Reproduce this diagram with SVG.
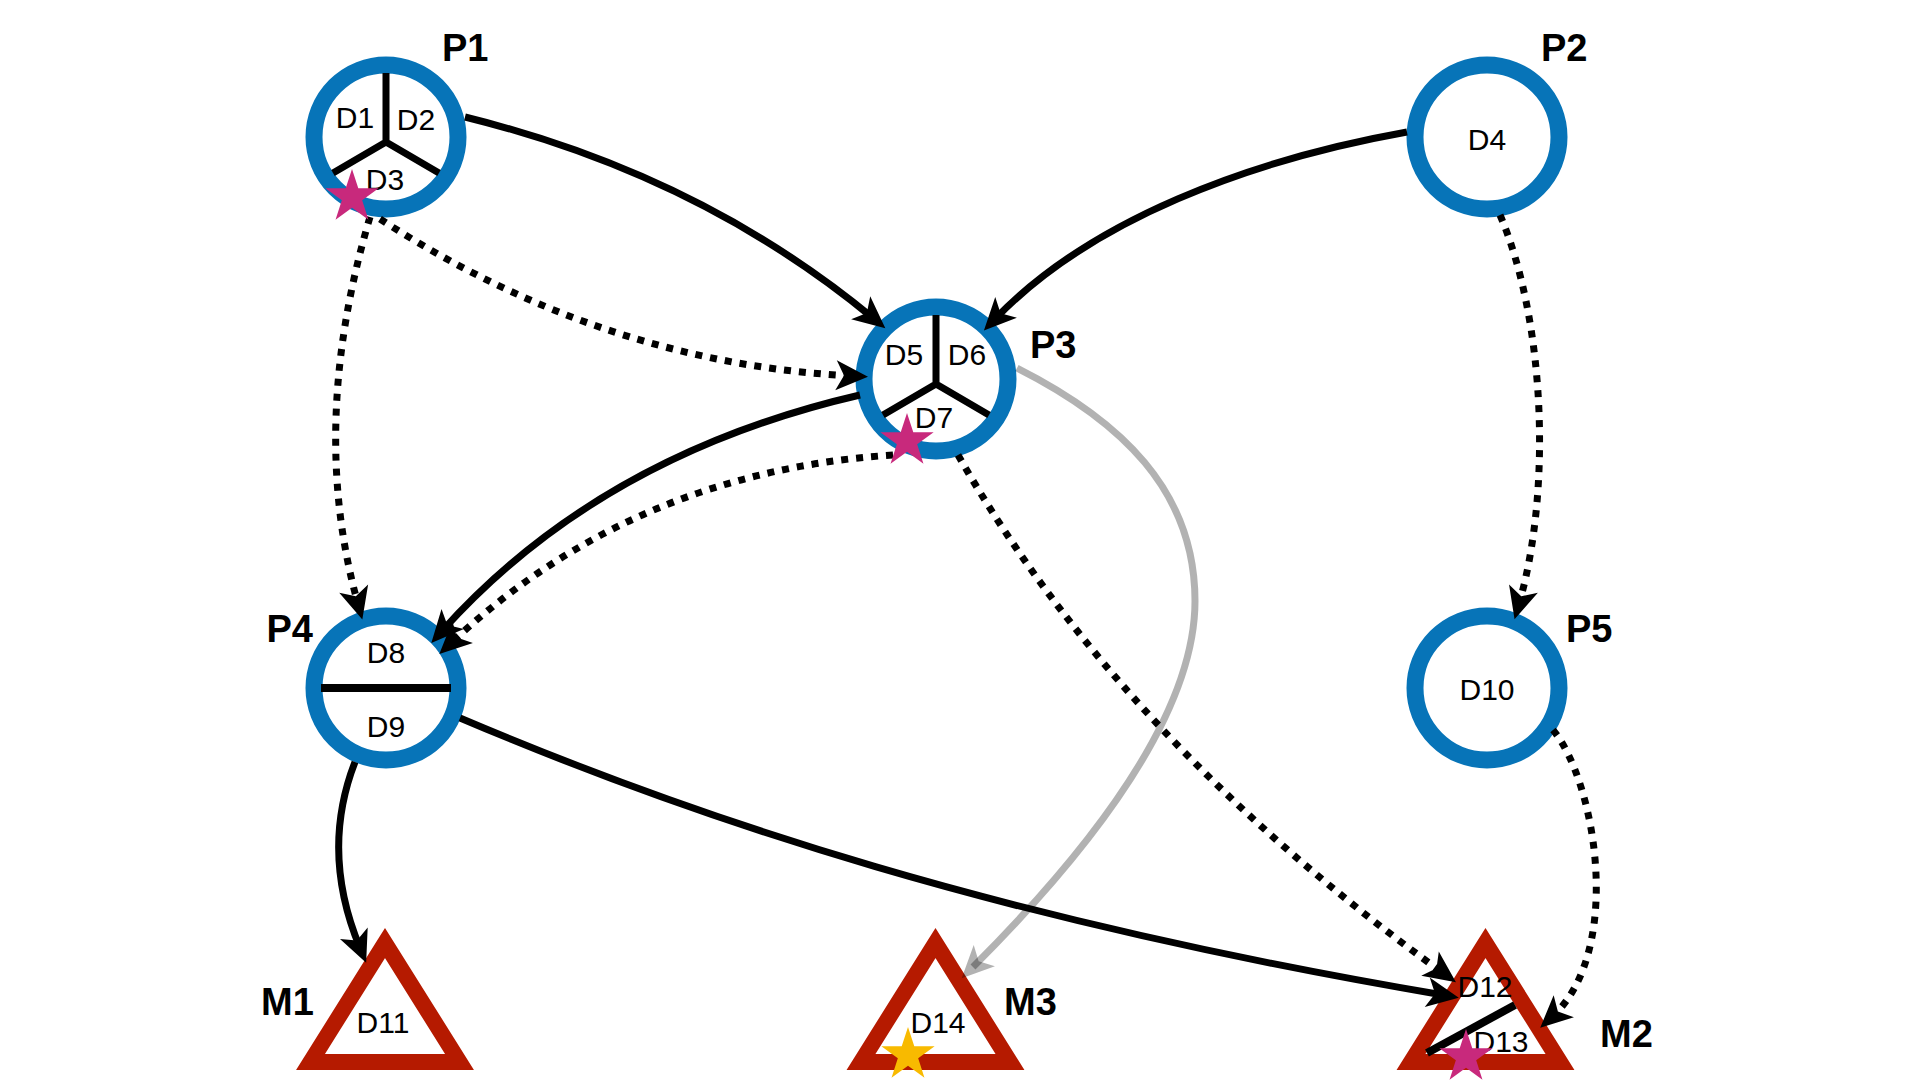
<svg xmlns="http://www.w3.org/2000/svg" width="1920" height="1080" viewBox="0 0 1920 1080">
<style>
.ring{fill:#fff;stroke:#0774B8;stroke-width:17}
.tri{fill:#fff;stroke:#B51A00;stroke-width:16;stroke-linejoin:miter;stroke-miterlimit:10}
.div{stroke:#000;stroke-width:7;fill:none}
.lbl{font-family:"Liberation Sans",Arial,sans-serif;font-size:30px;fill:#000;text-anchor:middle}
.name{font-family:"Liberation Sans",Arial,sans-serif;font-size:38px;font-weight:bold;fill:#000}
.e{fill:none;stroke:#000;stroke-width:7;marker-end:url(#arr)}
.dot{stroke-dasharray:7 8}
.g{fill:none;stroke:#000;stroke-opacity:0.3;stroke-width:7;marker-end:url(#arrg)}
.sm{fill:#C8297C}
.sy{fill:#F8BA00}
</style>
<defs>
<marker id="arr" markerUnits="userSpaceOnUse" orient="auto" refX="0" refY="0" markerWidth="40" markerHeight="40" overflow="visible">
<path d="M16,0 L-16,-15 L-8,0 L-16,15 Z" fill="#000"/>
</marker>
<marker id="arrg" markerUnits="userSpaceOnUse" orient="auto" refX="0" refY="0" markerWidth="40" markerHeight="40" overflow="visible">
<path d="M16,0 L-16,-15 L-8,0 L-16,15 Z" fill="#000" fill-opacity="0.3"/>
</marker>
<path id="star" d="M0,-28 L6.29,-8.66 L26.63,-8.65 L10.17,3.31 L16.46,22.65 L0,10.7 L-16.46,22.65 L-10.17,3.31 L-26.63,-8.65 L-6.29,-8.66 Z"/>
</defs>
<rect width="1920" height="1080" fill="#fff"/>

<g id="P1">
<circle class="ring" cx="386" cy="137" r="72"/>
<path class="div" d="M386,73 V142 M386,142 L333,173 M386,142 L439,173"/>
<text class="lbl" x="355" y="128">D1</text>
<text class="lbl" x="416" y="130">D2</text>
<text class="lbl" x="385" y="190">D3</text>
<text class="name" x="442" y="61">P1</text>
</g>
<g id="P2">
<circle class="ring" cx="1487" cy="137" r="72"/>
<text class="lbl" x="1487" y="150">D4</text>
<text class="name" x="1541" y="61">P2</text>
</g>
<g id="P3">
<circle class="ring" cx="936" cy="379" r="72"/>
<path class="div" d="M936,315 V384 M936,384 L883,415 M936,384 L989,415"/>
<text class="lbl" x="904" y="365">D5</text>
<text class="lbl" x="967" y="365">D6</text>
<text class="lbl" x="934" y="428">D7</text>
<text class="name" x="1030" y="358">P3</text>
</g>
<g id="P4">
<circle class="ring" cx="386" cy="688" r="72"/>
<path class="div" style="stroke-width:8" d="M321,688 H451"/>
<text class="lbl" x="386" y="663">D8</text>
<text class="lbl" x="386" y="737">D9</text>
<text class="name" x="313" y="642" text-anchor="end">P4</text>
</g>
<g id="P5">
<circle class="ring" cx="1487" cy="688" r="72"/>
<text class="lbl" x="1487" y="700">D10</text>
<text class="name" x="1566" y="642">P5</text>
</g>
<g id="M1">
<path class="tri" d="M385,943 L310.5,1062 L459.5,1062 Z"/>
<text class="lbl" x="383" y="1033">D11</text>
<text class="name" x="261" y="1015">M1</text>
</g>
<g id="M3">
<path class="tri" d="M935.5,943 L861,1062 L1010,1062 Z"/>
<text class="lbl" x="938" y="1033">D14</text>
<text class="name" x="1004" y="1015">M3</text>
</g>
<g id="M2">
<path class="tri" d="M1485.5,943 L1411,1062 L1560,1062 Z"/>
<path class="div" style="stroke-width:8" d="M1427,1053 L1515,1005"/>
<text class="lbl" x="1485" y="997">D12</text>
<text class="lbl" x="1501" y="1052">D13</text>
<text class="name" x="1600" y="1047">M2</text>
</g>

<g id="connectors">
<path class="e" d="M465,117 Q700,175 873,318"/>
<path class="e" d="M1407,132 C1250,160 1090,220 995,319"/>
<path class="e dot" d="M380,219 Q602,363 852,376"/>
<path class="e dot" d="M370,217 Q308,426 358,604"/>
<path class="e" d="M860,395 Q600,455 442,631"/>
<path class="e dot" d="M893,455 Q633,472 451,643"/>
<path class="g" d="M1017,368 C1120,420 1195,490 1195,601 C1195,720 1080,860 973,967"/>
<path class="e dot" d="M958,455 Q1120,740 1443,973"/>
<path class="e dot" d="M1500,215 C1545,320 1552,490 1519,604"/>
<path class="e" d="M355,762 Q320,852 360,948"/>
<path class="e" d="M460,718 C700,820 1000,920 1443,995"/>
<path class="e dot" d="M1553,730 C1595,780 1625,950 1552,1017"/>
</g>

<g id="stars">
<use href="#star" class="sm" x="352" y="197"/>
<use href="#star" class="sm" x="907" y="441"/>
<use href="#star" class="sy" x="908" y="1055"/>
<use href="#star" class="sm" x="1466" y="1057"/>
</g>
</svg>
